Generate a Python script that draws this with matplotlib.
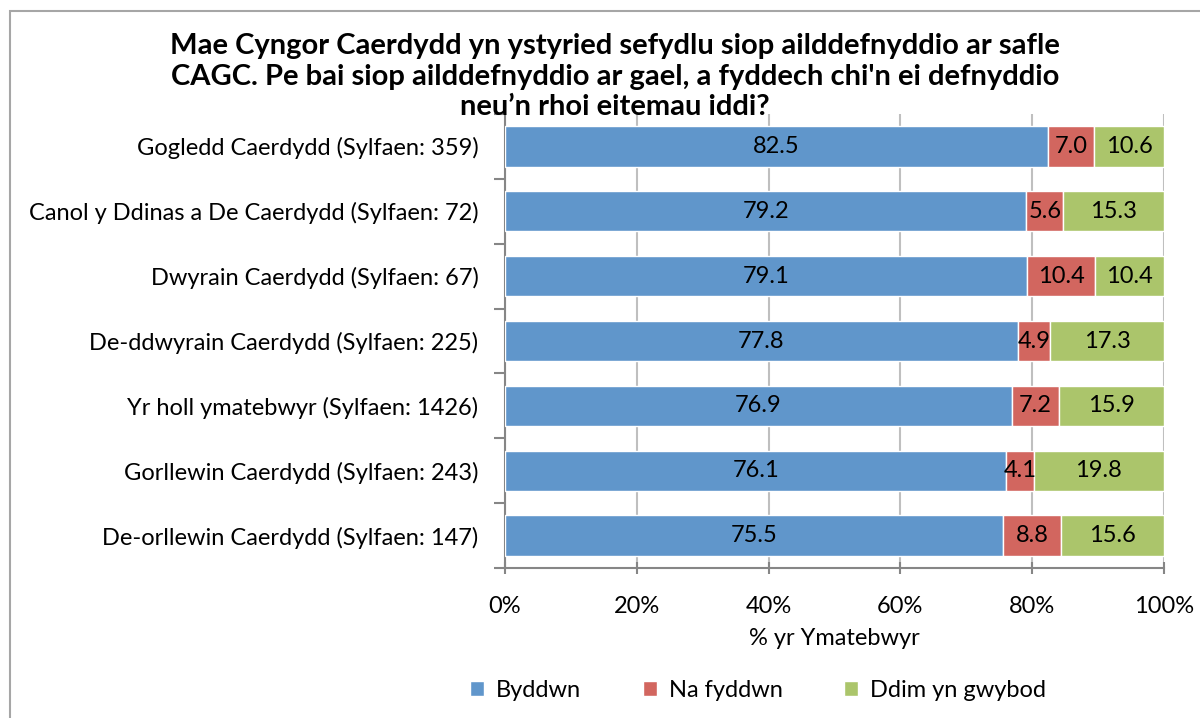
import numpy as np
import matplotlib
matplotlib.use('Agg')
import matplotlib.pyplot as plt
from matplotlib.patches import Rectangle

plt.rcParams['font.family'] = ['Lato', 'DejaVu Sans']

# data (top to bottom)
categories = [
    'Gogledd Caerdydd (Sylfaen: 359)',
    'Canol y Ddinas a De Caerdydd (Sylfaen: 72)',
    'Dwyrain Caerdydd (Sylfaen: 67)',
    'De-ddwyrain Caerdydd (Sylfaen: 225)',
    'Yr holl ymatebwyr (Sylfaen: 1426)',
    'Gorllewin Caerdydd (Sylfaen: 243)',
    'De-orllewin Caerdydd (Sylfaen: 147)',
]
byddwn = [82.5, 79.2, 79.1, 77.8, 76.9, 76.1, 75.5]
na_fyddwn = [7.0, 5.6, 10.4, 4.9, 7.2, 4.1, 8.8]
ddim_gwybod = [10.6, 15.3, 10.4, 17.3, 15.9, 19.8, 15.6]
series_names = ['Byddwn', 'Na fyddwn', 'Ddim yn gwybod']
colors = ['#6096CB', '#D2665F', '#ABC56B']
xticks = [0, 20, 40, 60, 80, 100]

title = ("Mae Cyngor Caerdydd yn ystyried sefydlu siop ailddefnyddio ar safle\n"
         "CAGC. Pe bai siop ailddefnyddio ar gael, a fyddech chi'n ei defnyddio\n"
         "neu\u2019n rhoi eitemau iddi?")

fs = 17

fig = plt.figure(figsize=(12, 7.18), dpi=100)
ax = fig.add_axes([0.4208, 0.2089, 0.5492, 0.6323])

# outer chart border (right and bottom edges fall outside the image)
fig.patches.append(Rectangle((10 / 1200, -0.2), 1.2, 1.2 - 11 / 718, transform=fig.transFigure,
                             fill=False, edgecolor='#A6A6A6', linewidth=1.5, zorder=0))

vals = np.array([byddwn, na_fyddwn, ddim_gwybod])
pct = vals / vals.sum(axis=0) * 100
y = np.arange(len(categories))
left = np.zeros(len(categories))
for i in range(3):
    bars = ax.barh(y, pct[i], left=left, height=0.62, color=colors[i],
                   edgecolor='white', linewidth=1, label=series_names[i], zorder=3)
    for j, b in enumerate(bars):
        ax.text(left[j] + pct[i][j] / 2, y[j], f'{vals[i][j]:.1f}',
                ha='center', va='center', fontsize=fs, color='black', zorder=4)
    left += pct[i]

ax.set_xlim(0, 100)
ax.set_ylim(len(categories) - 0.5, -0.5)
ax.set_xticks(xticks)
ax.set_xticklabels([f'{t}%' for t in xticks], fontsize=fs)
ax.set_yticks(y)
ax.set_yticklabels(categories, fontsize=fs)
ax.set_yticks(np.arange(len(categories) + 1) - 0.5, minor=True)
ax.tick_params(axis='y', which='major', length=0, pad=19)
ax.tick_params(axis='y', which='minor', length=8, width=1.5, color='#868686', direction='out')
ax.tick_params(axis='x', length=8, width=1.5, color='#868686', direction='inout', pad=16)
ax.grid(axis='x', color='#BFBFBF', linewidth=1.5, zorder=0)
ax.set_axisbelow(True)
for s in ['top', 'right']:
    ax.spines[s].set_visible(False)
for s in ['left', 'bottom']:
    ax.spines[s].set_color('#868686')
    ax.spines[s].set_linewidth(1.5)

ax.set_xlabel('% yr Ymatebwyr', fontsize=fs, labelpad=8)

fig.text(0.5125, 0.893, title, ha='center', va='center', fontsize=21,
         fontweight='bold', linespacing=1.22)

ax.legend(loc='center', bbox_to_anchor=(0.384, -0.269), ncol=3, frameon=False,
          fontsize=fs, handlelength=0.6, handleheight=0.6, columnspacing=2.6,
          handletextpad=0.5)

fig.savefig('out.png', dpi=100)
